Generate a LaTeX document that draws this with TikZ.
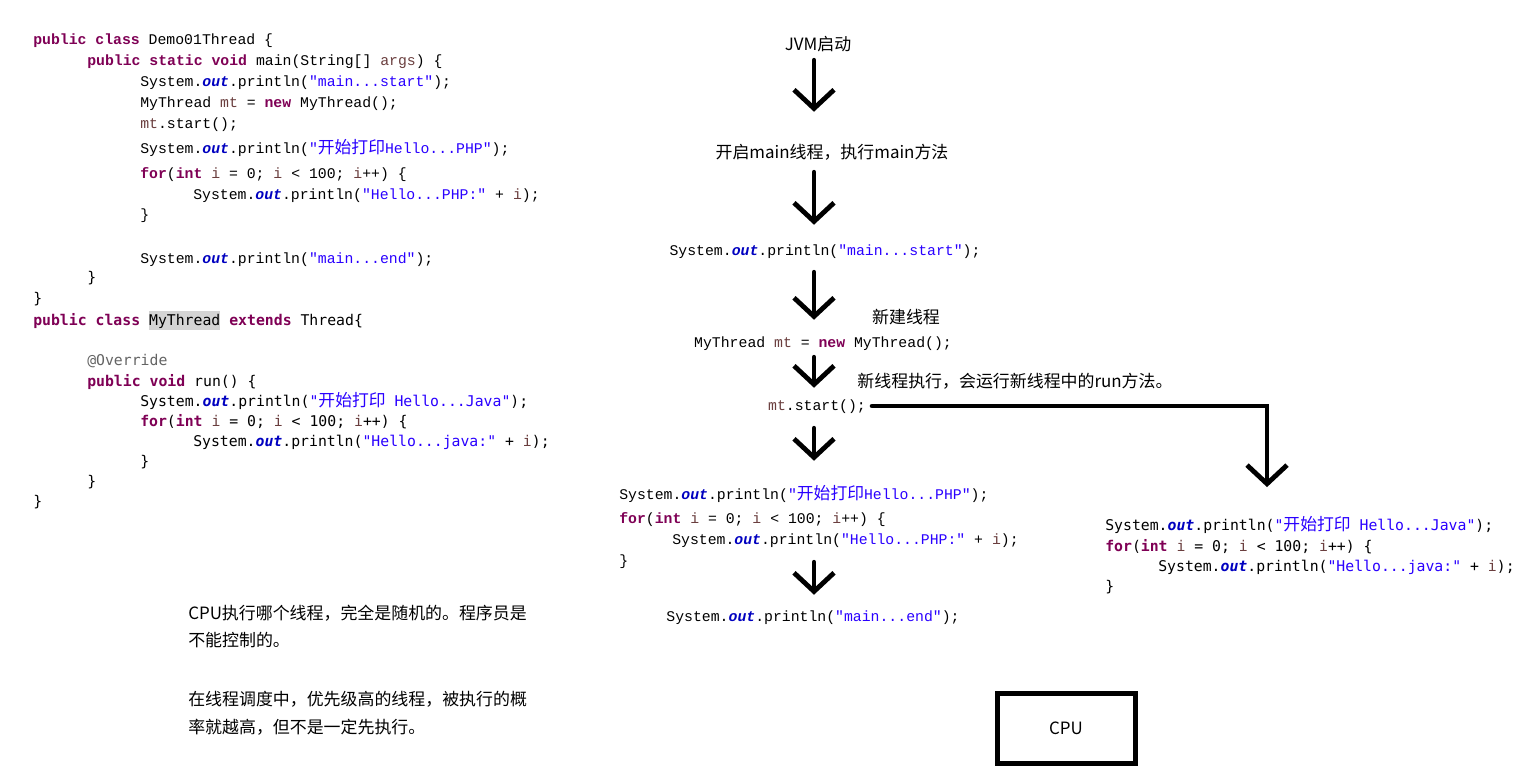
\documentclass[tikz,border=0pt]{standalone}
\usepackage{fontspec}
\usepackage{tikz}
\usetikzlibrary{arrows.meta}
\usepackage{xcolor}
\newfontfamily\cjk{Noto Sans CJK SC}
\newfontfamily\codea{Liberation Mono}
\newfontfamily\codeb{DejaVu Sans Mono}
\definecolor{kwpurple}{HTML}{7F0055}
\definecolor{fldblue}{HTML}{0000C0}
\definecolor{strblue}{HTML}{2A00FF}
\definecolor{varbrown}{HTML}{6A3E3E}
\definecolor{annogray}{HTML}{646464}
\definecolor{hlgray}{HTML}{D4D4D4}
\newcommand{\jkw}[1]{\textcolor{kwpurple}{\bfseries #1}}
\newcommand{\jout}{\textcolor{fldblue}{\bfseries\itshape out}}
\newcommand{\jstr}[1]{\textcolor{strblue}{#1}}
\newcommand{\jvar}[1]{\textcolor{varbrown}{#1}}
\newcommand{\zh}[1]{{\cjk\fontsize{12.6pt}{13pt}\selectfont #1}}
\newcommand{\jhl}[1]{{\setlength{\fboxsep}{0pt}\colorbox{hlgray}{\rule[-3.75pt]{0pt}{14.25pt}#1}}}

\begin{document}
\begin{tikzpicture}[
    x=0.75pt, y=-0.75pt,
    code/.style={inner sep=0pt, anchor=base west, text height=9pt, text depth=3pt},
    oldcode/.style={code, font=\codea\fontsize{11.1pt}{13pt}\selectfont},
    newcode/.style={code, font=\codeb\fontsize{11.1pt}{13pt}\selectfont},
    lbl/.style={inner sep=0pt, anchor=base, text height=9pt, text depth=3pt,
                font=\cjk\fontsize{12.7pt}{15pt}\selectfont},
    note/.style={lbl, anchor=base west},
    flow/.style={-{Straight Barb[length=14pt,width=30pt]}, line width=3.6pt, line cap=round},
]
\fill[white] (0,0) rectangle (1520,775);
\useasboundingbox (0,0) rectangle (1520,775);

% Source code on the left
\node[oldcode] (c1) at (33,44) {\jkw{public class} Demo01Thread \{};
\node[oldcode] (c2) at (87,65) {\jkw{public static void} main(String[] \jvar{args}) \{};
\node[oldcode] (c3) at (140,86) {System.\jout.println(\jstr{"main...start"});};
\node[oldcode] (c4) at (140,107) {MyThread \jvar{mt} = \jkw{new} MyThread();};
\node[oldcode] (c5) at (140,128) {\jvar{mt}.start();};
\node[oldcode] (c6) at (140,153) {System.\jout.println(\jstr{"\zh{开始打印}Hello...PHP"});};
\node[oldcode] (c7) at (140,178) {\jkw{for}(\jkw{int} \jvar{i} = 0; \jvar{i} < 100; \jvar{i}++) \{};
\node[oldcode] (c8) at (193,199) {System.\jout.println(\jstr{"Hello...PHP:"} + \jvar{i});};
\node[oldcode] (c9) at (140,219) {\}};
\node[oldcode] (c10) at (140,263) {System.\jout.println(\jstr{"main...end"});};
\node[newcode] (c11) at (87,282) {\}};
\node[newcode] (c12) at (33,303) {\}};
\node[newcode] (c13) at (33,325) {\jkw{public class} \jhl{MyThread} \jkw{extends} Thread\{};
\node[newcode] (c14) at (87,365) {\textcolor{annogray}{@Override}};
\node[newcode] (c15) at (87,386) {\jkw{public void} run() \{};
\node[newcode] (c16) at (140,406) {System.\jout.println(\jstr{"\zh{开始打印} Hello...Java"});};
\node[newcode] (c17) at (140,426) {\jkw{for}(\jkw{int} \jvar{i} = 0; \jvar{i} < 100; \jvar{i}++) \{};
\node[newcode] (c18) at (193,446) {System.\jout.println(\jstr{"Hello...java:"} + \jvar{i});};
\node[newcode] (c19) at (140,466) {\}};
\node[newcode] (c20) at (87,486) {\}};
\node[newcode] (c21) at (33,506) {\}};

% Main thread flow
\coordinate (spine) at (814,0);
\coordinate (turn) at (1267,405);
\node[lbl] (jvm) at (818,50) {JVM启动};
\node[lbl] (mainthr) at (832,158) {开启main线程，执行main方法};
\node[oldcode, anchor=base] (mstart) at (825,255) {System.\jout.println(\jstr{"main...start"});};
\node[lbl] (newlbl) at (906,323) {新建线程};
\node[oldcode, anchor=base] (mtnew) at (823,347) {MyThread \jvar{mt} = \jkw{new} MyThread();};
\node[lbl] (runlbl) at (1015,387) {新线程执行，会运行新线程中的run方法。};
\node[oldcode, anchor=base] (mtstart) at (817,410) {\jvar{mt}.start();};
\node[oldcode] (php1) at (619,499) {System.\jout.println(\jstr{"\zh{开始打印}Hello...PHP"});};
\node[oldcode] (php2) at (619,523) {\jkw{for}(\jkw{int} \jvar{i} = 0; \jvar{i} < 100; \jvar{i}++) \{};
\node[oldcode] (php3) at (672,544) {System.\jout.println(\jstr{"Hello...PHP:"} + \jvar{i});};
\node[oldcode] (php4) at (619,565) {\}};
\node[oldcode, anchor=base] (mend) at (813,621) {System.\jout.println(\jstr{"main...end"});};

% New thread
\node[newcode] (java1) at (1105,530) {System.\jout.println(\jstr{"\zh{开始打印} Hello...Java"});};
\node[newcode] (java2) at (1105,551) {\jkw{for}(\jkw{int} \jvar{i} = 0; \jvar{i} < 100; \jvar{i}++) \{};
\node[newcode] (java3) at (1158,571) {System.\jout.println(\jstr{"Hello...java:"} + \jvar{i});};
\node[newcode] (java4) at (1105,591) {\}};

% Arrows
\draw[flow, shorten <=4.5pt, shorten >=25.5pt] (jvm.south -| spine) -- (mainthr.north -| spine);
\draw[flow, shorten <=7.5pt, shorten >=13.5pt] (mainthr.south -| spine) -- (mstart.north -| spine);
\draw[flow, shorten <=9.75pt, shorten >=11.25pt] (mstart.south -| spine) -- (mtnew.north -| spine);
\draw[flow, shorten <=4.5pt, shorten >=7.5pt] (mtnew.south -| spine) -- (mtstart.north -| spine);
\draw[flow, shorten <=10.5pt, shorten >=19.5pt] (mtstart.south -| spine) -- (php1.north -| spine);
\draw[flow, shorten <=-5.25pt, shorten >=10.5pt] (php4.south -| spine) -- (mend.north -| spine);
\draw[flow, shorten <=4.5pt, shorten >=23pt] (mtstart.east) -| (turn |- java1.north);

% Notes
\node[note] (note1) at (188,619) {CPU执行哪个线程，完全是随机的。程序员是};
\node[note] (note2) at (188,646) {不能控制的。};
\node[note] (note3) at (188,705) {在线程调度中，优先级高的线程，被执行的概};
\node[note] (note4) at (188,733) {率就越高，但不是一定先执行。};

% CPU
\node[draw, line width=3.75pt, minimum width=103.5pt, minimum height=52.5pt,
      font=\cjk\fontsize{12.7pt}{15pt}\selectfont] (cpu) at (1066,728.5) {CPU};

\end{tikzpicture}
\end{document}
